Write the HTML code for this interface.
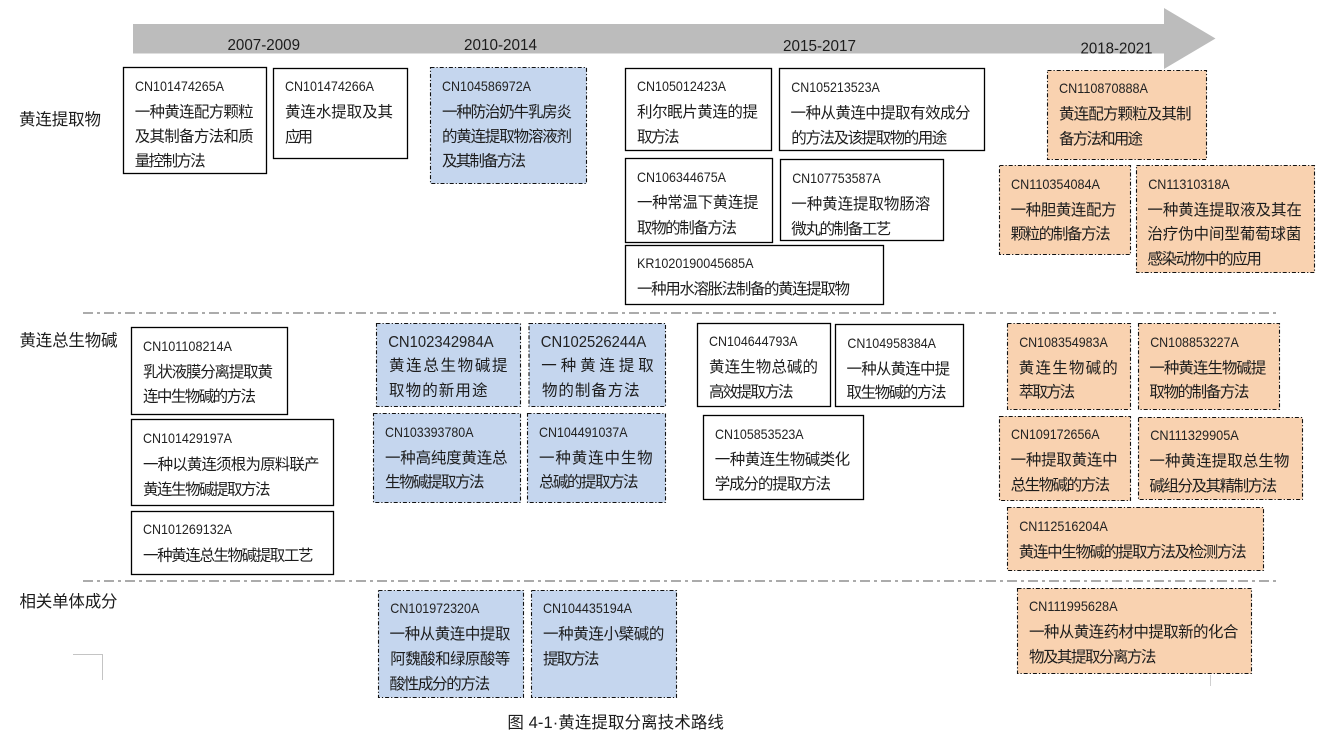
<!DOCTYPE html>
<html lang="zh">
<head>
<meta charset="utf-8">
<title>黄连提取分离技术路线</title>
<style>
html,body{margin:0;padding:0;background:#fff;width:1320px;height:732px;overflow:hidden}
svg{display:block}
text{font-family:"Liberation Sans","Noto Sans CJK SC",sans-serif;fill:#1c1c1c}
.c{font-size:14px;fill:#222}
.t{font-size:15.5px}
.l{font-size:16.5px}
.y{font-size:16px}
.w{fill:#fff;stroke:#000;stroke-width:1.3}
.b{fill:#c5d6ee;stroke:#111;stroke-width:1.1;stroke-dasharray:4 2 1.2 2}
.o{fill:#f9d2b0;stroke:#111;stroke-width:1.1;stroke-dasharray:4 2 1.2 2}
.d{stroke:#ababab;stroke-width:2;stroke-dasharray:10 4 3 4;fill:none}
</style>
</head>
<body>
<svg width="1320" height="732" viewBox="0 0 1320 732" xmlns="http://www.w3.org/2000/svg">
<polygon points="133,24 1164,24 1164,8 1215.5,38.5 1164,69 1164,53.5 133,53.5" fill="#bcbcbc"/>
<text class="y" x="227.5" y="50" textLength="72.5" lengthAdjust="spacingAndGlyphs">2007-2009</text>
<text class="y" x="464" y="50" textLength="73" lengthAdjust="spacingAndGlyphs">2010-2014</text>
<text class="y" x="783" y="51" textLength="73" lengthAdjust="spacingAndGlyphs">2015-2017</text>
<text class="y" x="1080.5" y="53.5" textLength="72" lengthAdjust="spacingAndGlyphs">2018-2021</text>

<line class="d" x1="83" y1="313" x2="1280" y2="313"/>
<line class="d" x1="83" y1="581" x2="1280" y2="581"/>

<text class="l" x="19" y="125" textLength="82">黄连提取物</text>
<text class="l" x="19.5" y="346" textLength="98">黄连总生物碱</text>
<text class="l" x="19.5" y="607" textLength="98">相关单体成分</text>

<!-- row 1 -->
<rect class="w" x="123.5" y="67.5" width="143" height="106"/>
<text class="c" x="135" y="91" textLength="89" lengthAdjust="spacingAndGlyphs">CN101474265A</text>
<text class="t" x="134.7" y="117" textLength="119">一种黄连配方颗粒</text>
<text class="t" x="134.7" y="141.5" textLength="119">及其制备方法和质</text>
<text class="t" x="134.7" y="166" textLength="71">量控制方法</text>

<rect class="w" x="273.5" y="68.5" width="134" height="90"/>
<text class="c" x="285" y="91" textLength="89" lengthAdjust="spacingAndGlyphs">CN101474266A</text>
<text class="t" x="285" y="117" textLength="108">黄连水提取及其</text>
<text class="t" x="285" y="142" textLength="28">应用</text>

<rect class="b" x="430.5" y="67.5" width="156" height="116"/>
<text class="c" x="442" y="91" textLength="89" lengthAdjust="spacingAndGlyphs">CN104586972A</text>
<text class="t" x="442" y="117" textLength="130">一种防治奶牛乳房炎</text>
<text class="t" x="442" y="141.5" textLength="130">的黄连提取物溶液剂</text>
<text class="t" x="442" y="166" textLength="84">及其制备方法</text>

<rect class="w" x="625.5" y="68.5" width="146" height="82"/>
<text class="c" x="637" y="91" textLength="89" lengthAdjust="spacingAndGlyphs">CN105012423A</text>
<text class="t" x="637" y="117" textLength="121">利尔眠片黄连的提</text>
<text class="t" x="637" y="142" textLength="42.5">取方法</text>

<rect class="w" x="779.5" y="68.5" width="205" height="82"/>
<text class="c" x="791.3" y="92" textLength="88.5" lengthAdjust="spacingAndGlyphs">CN105213523A</text>
<text class="t" x="790.5" y="118" textLength="180">一种从黄连中提取有效成分</text>
<text class="t" x="791.3" y="143" textLength="156">的方法及该提取物的用途</text>

<rect class="w" x="625.5" y="158.5" width="147" height="84"/>
<text class="c" x="637" y="182" textLength="89" lengthAdjust="spacingAndGlyphs">CN106344675A</text>
<text class="t" x="637" y="207.5" textLength="121.5">一种常温下黄连提</text>
<text class="t" x="637" y="233" textLength="100">取物的制备方法</text>

<rect class="w" x="780.5" y="159.5" width="163" height="81"/>
<text class="c" x="792.2" y="183" textLength="88.5" lengthAdjust="spacingAndGlyphs">CN107753587A</text>
<text class="t" x="791.3" y="209" textLength="139">一种黄连提取物肠溶</text>
<text class="t" x="791.3" y="234" textLength="100">微丸的制备工艺</text>

<rect class="w" x="625.5" y="245.5" width="258" height="59"/>
<text class="c" x="637" y="268" textLength="116.5" lengthAdjust="spacingAndGlyphs">KR1020190045685A</text>
<text class="t" x="637" y="294" textLength="213">一种用水溶胀法制备的黄连提取物</text>

<rect class="o" x="1047.5" y="70.5" width="159" height="89"/>
<text class="c" x="1059" y="93" textLength="89" lengthAdjust="spacingAndGlyphs">CN110870888A</text>
<text class="t" x="1059" y="119" textLength="132.5">黄连配方颗粒及其制</text>
<text class="t" x="1059" y="144" textLength="84">备方法和用途</text>

<rect class="o" x="999.5" y="165.5" width="131" height="89"/>
<text class="c" x="1011" y="189" textLength="89" lengthAdjust="spacingAndGlyphs">CN110354084A</text>
<text class="t" x="1010.6" y="215" textLength="106">一种胆黄连配方</text>
<text class="t" x="1010.6" y="239" textLength="100">颗粒的制备方法</text>

<rect class="o" x="1136.5" y="165.5" width="178" height="107"/>
<text class="c" x="1148.2" y="189" textLength="81.5" lengthAdjust="spacingAndGlyphs">CN11310318A</text>
<text class="t" x="1147.4" y="215" textLength="154.5">一种黄连提取液及其在</text>
<text class="t" x="1147.4" y="239" textLength="154">治疗伪中间型葡萄球菌</text>
<text class="t" x="1147.4" y="264" textLength="114.5">感染动物中的应用</text>

<!-- row 2 -->
<rect class="w" x="131.5" y="327.5" width="156" height="87"/>
<text class="c" x="143" y="351" textLength="89" lengthAdjust="spacingAndGlyphs">CN101108214A</text>
<text class="t" x="143" y="377" textLength="130">乳状液膜分离提取黄</text>
<text class="t" x="143" y="401.5" textLength="113">连中生物碱的方法</text>

<rect class="w" x="131.5" y="419.5" width="202" height="86"/>
<text class="c" x="143" y="443" textLength="89" lengthAdjust="spacingAndGlyphs">CN101429197A</text>
<text class="t" x="143" y="469.5" textLength="176.5">一种以黄连须根为原料联产</text>
<text class="t" x="143" y="494.5" textLength="127.5">黄连生物碱提取方法</text>

<rect class="w" x="131.5" y="511.5" width="202" height="63"/>
<text class="c" x="143" y="534" textLength="89" lengthAdjust="spacingAndGlyphs">CN101269132A</text>
<text class="t" x="143" y="560.5" textLength="170.5">一种黄连总生物碱提取工艺</text>

<rect class="b" x="376.5" y="323.5" width="144" height="83"/>
<text class="c" style="font-size:16px" x="388.2" y="347" textLength="105.5" lengthAdjust="spacingAndGlyphs">CN102342984A</text>
<text class="t" x="389" y="370.5" textLength="118.5">黄连总生物碱提</text>
<text class="t" x="389" y="395.5" textLength="98.5">取物的新用途</text>

<rect class="b" x="529" y="323.5" width="136.5" height="83"/>
<text class="c" style="font-size:16px" x="540.8" y="347" textLength="105.5" lengthAdjust="spacingAndGlyphs">CN102526244A</text>
<text class="t" x="541.3" y="370.5" textLength="112.5">一种黄连提取</text>
<text class="t" x="542" y="395.5" textLength="97.7">物的制备方法</text>

<rect class="b" x="373.5" y="413.5" width="147" height="89"/>
<text class="c" x="385" y="437" textLength="88.5" lengthAdjust="spacingAndGlyphs">CN103393780A</text>
<text class="t" x="385" y="463" textLength="122.5">一种高纯度黄连总</text>
<text class="t" x="385" y="487" textLength="99.5">生物碱提取方法</text>

<rect class="b" x="527.5" y="413.5" width="138" height="89"/>
<text class="c" x="539" y="437" textLength="88.5" lengthAdjust="spacingAndGlyphs">CN104491037A</text>
<text class="t" x="539" y="463" textLength="113.7">一种黄连中生物</text>
<text class="t" x="539" y="487" textLength="99.5">总碱的提取方法</text>

<rect class="w" x="697.5" y="323.5" width="133" height="83"/>
<text class="c" x="709" y="346" textLength="88.6" lengthAdjust="spacingAndGlyphs">CN104644793A</text>
<text class="t" x="709" y="372" textLength="109">黄连生物总碱的</text>
<text class="t" x="709" y="397" textLength="84.5">高效提取方法</text>

<rect class="w" x="835.5" y="324.5" width="128" height="82"/>
<text class="c" x="847.4" y="348" textLength="88.6" lengthAdjust="spacingAndGlyphs">CN104958384A</text>
<text class="t" x="846.5" y="374" textLength="103.7">一种从黄连中提</text>
<text class="t" x="846.5" y="397.5" textLength="100">取生物碱的方法</text>

<rect class="w" x="703.5" y="415.5" width="160" height="84"/>
<text class="c" x="715" y="439" textLength="88.6" lengthAdjust="spacingAndGlyphs">CN105853523A</text>
<text class="t" x="714.7" y="464.5" textLength="135.5">一种黄连生物碱类化</text>
<text class="t" x="714.7" y="489" textLength="116.3">学成分的提取方法</text>

<rect class="o" x="1007.5" y="323.5" width="123" height="86"/>
<text class="c" x="1019.2" y="347" textLength="88.6" lengthAdjust="spacingAndGlyphs">CN108354983A</text>
<text class="t" x="1018.8" y="373" textLength="99">黄连生物碱的</text>
<text class="t" x="1018.8" y="397" textLength="56.3">萃取方法</text>

<rect class="o" x="1138.5" y="323.5" width="141" height="86"/>
<text class="c" x="1150.2" y="347" textLength="88.6" lengthAdjust="spacingAndGlyphs">CN108853227A</text>
<text class="t" x="1149.4" y="373" textLength="117">一种黄连生物碱提</text>
<text class="t" x="1149.4" y="397" textLength="100">取物的制备方法</text>

<rect class="o" x="999.5" y="416.5" width="131" height="84"/>
<text class="c" x="1011" y="439" textLength="88.6" lengthAdjust="spacingAndGlyphs">CN109172656A</text>
<text class="t" x="1010.6" y="465" textLength="107">一种提取黄连中</text>
<text class="t" x="1010.6" y="490" textLength="99.6">总生物碱的方法</text>

<rect class="o" x="1138.5" y="417.5" width="164" height="82"/>
<text class="c" x="1150.2" y="440" textLength="88.6" lengthAdjust="spacingAndGlyphs">CN111329905A</text>
<text class="t" x="1149.4" y="466" textLength="140">一种黄连提取总生物</text>
<text class="t" x="1149.4" y="491" textLength="127.8">碱组分及其精制方法</text>

<rect class="o" x="1007.5" y="507.5" width="256" height="63"/>
<text class="c" x="1019.2" y="531" textLength="88.6" lengthAdjust="spacingAndGlyphs">CN112516204A</text>
<text class="t" x="1018.8" y="557" textLength="227.8">黄连中生物碱的提取方法及检测方法</text>

<!-- row 3 -->
<rect class="b" x="378.5" y="590.5" width="145" height="107"/>
<text class="c" x="390.3" y="613" textLength="89" lengthAdjust="spacingAndGlyphs">CN101972320A</text>
<text class="t" x="389.5" y="639" textLength="121">一种从黄连中提取</text>
<text class="t" x="390.3" y="664" textLength="120">阿魏酸和绿原酸等</text>
<text class="t" x="389.5" y="689" textLength="100.6">酸性成分的方法</text>

<rect class="b" x="531.5" y="590.5" width="145" height="107"/>
<text class="c" x="543" y="613" textLength="89" lengthAdjust="spacingAndGlyphs">CN104435194A</text>
<text class="t" x="543" y="639" textLength="121.4">一种黄连小檗碱的</text>
<text class="t" x="543" y="664" textLength="56.4">提取方法</text>

<rect class="o" x="1017.5" y="588.5" width="234" height="85"/>
<text class="c" x="1029" y="611" textLength="88.6" lengthAdjust="spacingAndGlyphs">CN111995628A</text>
<text class="t" x="1029" y="637" textLength="209.4">一种从黄连药材中提取新的化合</text>
<text class="t" x="1029" y="662" textLength="127.4">物及其提取分离方法</text>

<polyline points="73,654.5 102.5,654.5 102.5,680" fill="none" stroke="#c4c4c4" stroke-width="1"/>
<line x1="1210.5" y1="675" x2="1210.5" y2="686" stroke="#d0d0d0" stroke-width="1"/>

<text class="l" x="507.4" y="728" textLength="216.5">图 4-1·黄连提取分离技术路线</text>
</svg>
</body>
</html>
